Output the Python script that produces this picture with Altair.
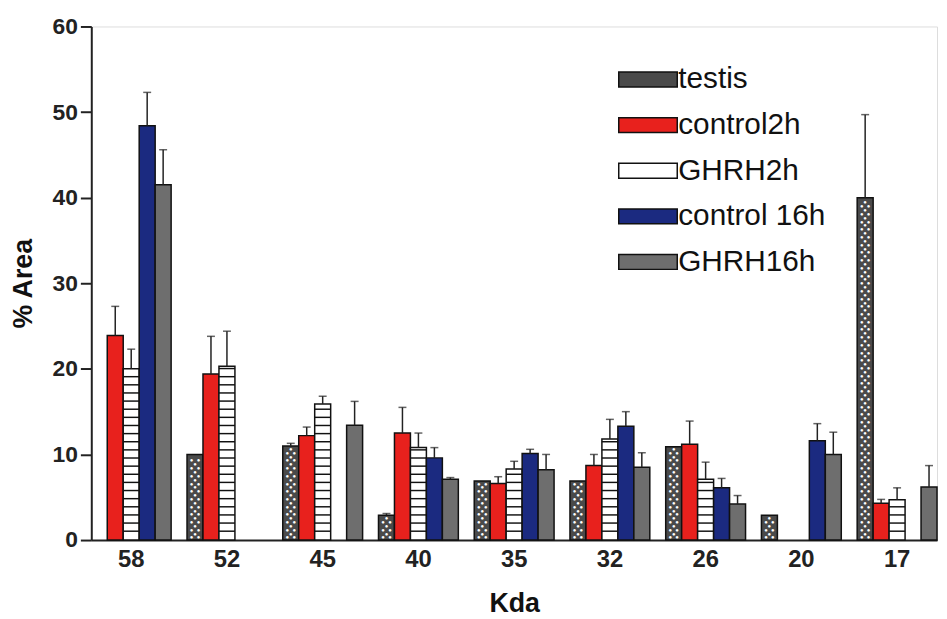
import altair as alt
import pandas as pd

kda = ["58", "52", "45", "40", "35", "32", "26", "20", "17"]
series = ["testis", "control2h", "GHRH2h", "control 16h", "GHRH16h"]

testis = [None, 10.0, 11.0, 2.9, 6.9, 6.9, 10.9, 2.9, 40.0]
testis_err = [None, 0.0, 0.3, 0.2, 0.0, 0.0, 0.0, 0.0, 9.7]
control2h = [23.9, 19.4, 12.2, 12.5, 6.6, 8.7, 11.2, None, 4.3]
control2h_err = [3.4, 4.4, 1.0, 3.0, 0.8, 1.3, 2.7, None, 0.45]
ghrh2h = [20.0, 20.3, 15.9, 10.8, 8.3, 11.8, 7.1, None, 4.7]
ghrh2h_err = [2.3, 4.1, 0.9, 1.7, 0.9, 2.3, 2.0, None, 1.4]
control16h = [48.4, None, None, 9.6, 10.1, 13.3, 6.1, 11.6, None]
control16h_err = [3.9, None, None, 1.2, 0.5, 1.7, 1.1, 2.0, None]
ghrh16h = [41.5, None, 13.4, 7.1, 8.2, 8.5, 4.2, 10.0, 6.2]
ghrh16h_err = [4.1, None, 2.8, 0.2, 1.8, 1.7, 1.0, 2.6, 2.5]

colors = ["#4a4a4a", "#e8211d", "#ffffff", "#1b2a80", "#6e6e6e"]

values = [testis, control2h, ghrh2h, control16h, ghrh16h]
errors = [testis_err, control2h_err, ghrh2h_err, control16h_err, ghrh16h_err]

rows = []
for s, vals, errs in zip(series, values, errors):
    for k, v, e in zip(kda, vals, errs):
        if v is None:
            continue
        rows.append({"kda": k, "series": s, "value": v, "err": e, "top": v + e})
df = pd.DataFrame(rows)
err_df = df[df["err"] > 0]

# horizontal stripes inside GHRH2h bars
stripe_rows = []
for k, v in zip(kda, ghrh2h):
    if v is None:
        continue
    y = 0.95
    while y < v - 0.25:
        stripe_rows.append({"kda": k, "series": "GHRH2h", "y": y, "y2": y + 0.17})
        y += 0.95
stripe_df = pd.DataFrame(stripe_rows)

# dotted texture inside testis bars
dot_rows = []
for k, v in zip(kda, testis):
    if v is None:
        continue
    j = 0
    y = 0.3
    while y < v - 0.25:
        dot_rows.append({"kda": k, "series": "testis", "y": y, "row": j % 2})
        j += 1
        y += 0.45
dot_df = pd.DataFrame(dot_rows)

FONT = "Liberation Sans"

x_enc = alt.X(
    "kda:N",
    sort=kda,
    scale=alt.Scale(domain=kda, paddingInner=0.166, paddingOuter=0),
    axis=alt.Axis(
        title="Kda", labelAngle=0, ticks=False, domainColor="#222", domainWidth=2,
        labelFont=FONT, labelFontSize=24, labelFontWeight="bold", labelColor="#222",
        labelPadding=8, titleFont=FONT, titleFontSize=27, titleFontWeight="bold",
        titleColor="#111", titlePadding=19,
    ),
)
xo_enc = alt.XOffset(
    "series:N", sort=series,
    scale=alt.Scale(domain=series, paddingInner=0, paddingOuter=0),
)
yscale = alt.Scale(domain=[0, 60], nice=False)
yaxis = alt.Axis(
    title="% Area", values=[0, 10, 20, 30, 40, 50, 60], grid=False,
    domainColor="#222", domainWidth=2, tickColor="#222", tickWidth=2, tickSize=11,
    labelFont=FONT, labelFontSize=23, labelFontWeight="bold", labelColor="#222",
    labelPadding=3, titleFont=FONT, titleFontSize=27, titleFontWeight="bold",
    titleColor="#111", titlePadding=15,
)


def Y(field):
    return alt.Y(f"{field}:Q", scale=yscale, axis=yaxis, title="% Area")


bars = alt.Chart(df).mark_bar(stroke="#111", strokeWidth=1.5).encode(
    x=x_enc, xOffset=xo_enc, y=Y("value"),
    color=alt.Color(
        "series:N", sort=series,
        scale=alt.Scale(domain=series, range=colors),
        legend=alt.Legend(
            title=None, orient="none", legendX=531, legendY=23,
            symbolType="M-1,-0.254H1V0.254H-1Z", symbolSize=3481,
            symbolStrokeColor="#111", symbolStrokeWidth=1.5, symbolOpacity=1,
            labelFont=FONT, labelFontSize=30, labelColor="#111",
            labelOffset=0, rowPadding=-3,
        ),
    ),
)

stripes = alt.Chart(stripe_df).mark_bar(color="#111").encode(
    x=x_enc, xOffset=xo_enc, y=Y("y"), y2="y2:Q",
)

dots_a = alt.Chart(dot_df).transform_filter("datum.row == 0").mark_text(
    text="●", color="white", fontSize=6, dx=-3.5, baseline="middle"
).encode(x=x_enc, xOffset=xo_enc, y=Y("y"))
dots_b = alt.Chart(dot_df).transform_filter("datum.row == 0").mark_text(
    text="●", color="white", fontSize=6, dx=3.5, baseline="middle"
).encode(x=x_enc, xOffset=xo_enc, y=Y("y"))
dots_c = alt.Chart(dot_df).transform_filter("datum.row == 1").mark_text(
    text="●", color="white", fontSize=6, dx=0, baseline="middle"
).encode(x=x_enc, xOffset=xo_enc, y=Y("y"))

err_rule = alt.Chart(err_df).mark_rule(color="#222", strokeWidth=1.5).encode(
    x=x_enc, xOffset=xo_enc, y=Y("value"), y2="top:Q",
)
err_cap = alt.Chart(err_df).mark_tick(
    color="#222", orient="horizontal", size=8, thickness=1.5
).encode(x=x_enc, xOffset=xo_enc, y=Y("top"))

chart = alt.layer(bars, stripes, dots_a, dots_b, dots_c, err_rule, err_cap).properties(
    width=853, height=518,
    autosize=alt.AutoSizeParams(type="none"),
    padding={"left": 84, "top": 16, "right": 2, "bottom": 77},
).configure_view(stroke=None).configure(background="white")

chart.save("out.html", embed_options={"renderer": "svg", "actions": False})
